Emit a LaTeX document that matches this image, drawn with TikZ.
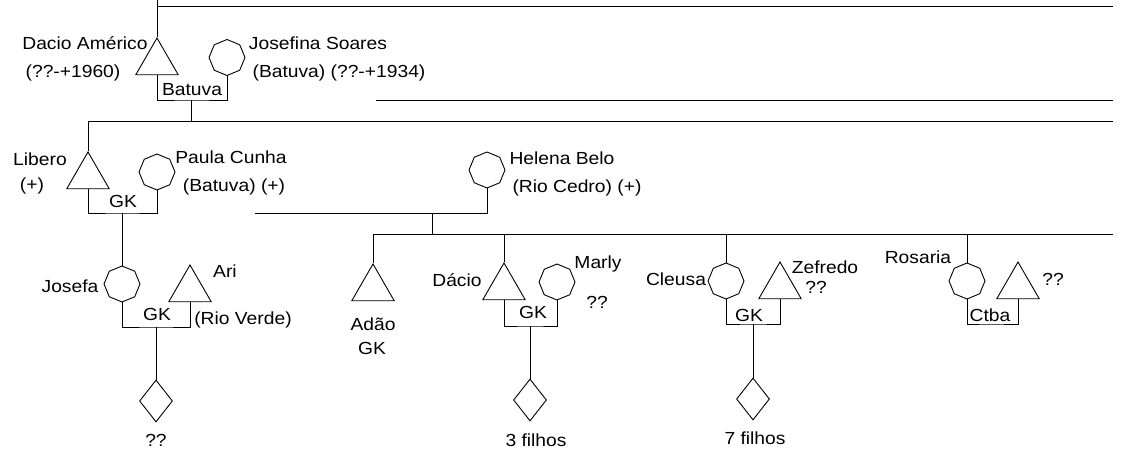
\documentclass[tikz,border=0pt]{standalone}
\usepackage{fontspec}
\setmainfont{Liberation Sans}[FakeStretch=1.1]
\usepackage{tikz}
\usetikzlibrary{positioning, shapes.geometric}

\begin{document}
\begin{tikzpicture}[
        x=1pt, y=-1pt,
        line width=0.9pt,
        male/.style={regular polygon, regular polygon sides=3, draw,
                     inner sep=0pt, minimum size=49pt},
        female/.style={regular polygon, regular polygon sides=8, draw,
                       shape border rotate=22.5, inner sep=0pt, minimum size=36pt},
        kids/.style={diamond, draw, inner sep=0pt,
                     minimum width=33pt, minimum height=42pt},
        lbl/.style={inner sep=0pt, text height=12pt, text depth=0pt,
                    font=\fontsize{17.5}{20}\selectfont},
    ]
        \useasboundingbox (0,0) rectangle (1121,454);

        \node[male]   (dacio)    at (157,62.5)  {};
        \node[female] (josefina) at (227,57.5)  {};
        \node[male]   (libero)   at (88,176.5)  {};
        \node[female] (paula)    at (157,172)   {};
        \node[female] (helena)   at (487,170)   {};
        \node[female] (josefa)   at (122,284)   {};
        \node[male]   (ari)      at (190,289.5) {};
        \node[kids]   (k1)       at (156,401)   {};
        \node[male]   (adao)     at (373,288.5) {};
        \node[male]   (dacioj)   at (504,287.5) {};
        \node[female] (marly)    at (557,282)   {};
        \node[kids]   (k2)       at (530,400)   {};
        \node[female] (cleusa)   at (726,281)   {};
        \node[male]   (zefredo)  at (780,286.5) {};
        \node[kids]   (k3)       at (753,399)   {};
        \node[female] (rosaria)  at (967,281)   {};
        \node[male]   (rosmar)   at (1018,286.5) {};

        \coordinate (top) at (157,0);
        \coordinate (g0)  at (157,6);   \coordinate (g0e) at (1113,6);
        \coordinate (u1)  at (191,100);
        \coordinate (h1)  at (376,100); \coordinate (h1e) at (1113,100);
        \coordinate (g1)  at (88,121);  \coordinate (g1e) at (1113,121);
        \coordinate (u2)  at (122,213);
        \coordinate (h2)  at (255,213);
        \coordinate (u3)  at (432,213);
        \coordinate (g2)  at (373,234); \coordinate (g2e) at (1113,234);
        \coordinate (u4)  at (156,327);
        \coordinate (u5)  at (530,326);
        \coordinate (u6)  at (753,324);
        \coordinate (u7)  at (990,324);

        \draw (top) -- (dacio.north);
        \draw (g0) -- (g0e);
        \draw (dacio.south) |- (u1) -| (josefina.south);
        \draw (u1) -- (u1 |- g1);
        \draw (h1) -- (h1e);
        \draw (g1) -- (g1e);
        \draw (g1) -- (libero.north);
        \draw (libero.south) |- (u2) -| (paula.south);
        \draw (u2) -- (josefa.north);
        \draw (h2) -| (helena.south);
        \draw (u3) -- (u3 |- g2);
        \draw (g2) -- (g2e);
        \draw (josefa.south) |- (u4) -| (ari.south);
        \draw (u4) -- (k1.north);
        \draw (g2) -- (adao.north);
        \draw (dacioj.north |- g2) -- (dacioj.north);
        \draw (dacioj.south) |- (u5) -| (marly.south);
        \draw (u5) -- (k2.north);
        \draw (cleusa.north |- g2) -- (cleusa.north);
        \draw (cleusa.south) |- (u6) -| (zefredo.south);
        \draw (u6) -- (k3.north);
        \draw (rosaria.north |- g2) -- (rosaria.north);
        \draw (rosaria.south) |- (u7) -| (rosmar.south);

        \node[lbl, anchor=east] (t1) at (148,44) {Dacio Américo};
        \node[lbl] (t2)  at (73,72)   {(??-+1960)};
        \node[lbl] (t3)  at (318,44)  {Josefina Soares};
        \node[lbl] (t4)  at (339,72)  {(Batuva) (??-+1934)};
        \node[lbl] (t5)  at (192,90)  {Batuva};
        \node[lbl] (t6)  at (40,160)  {Libero};
        \node[lbl] (t7)  at (32,185)  {(+)};
        \node[lbl] (t8)  at (231,158) {Paula Cunha};
        \node[lbl] (t9)  at (234,186) {(Batuva) (+)};
        \node[lbl] (t10) at (123,202) {GK};
        \node[lbl] (t11) at (562,159) {Helena Belo};
        \node[lbl] (t12) at (577,187) {(Rio Cedro) (+)};
        \node[lbl] (t13) at (70,286)  {Josefa};
        \node[lbl] (t14) at (225,271) {Ari};
        \node[lbl] (t15) at (243,318) {(Rio Verde)};
        \node[lbl] (t16) at (157,314) {GK};
        \node[lbl] (t17) at (156,440) {??};
        \node[lbl] (t18) at (373,324) {Adão};
        \node[lbl] (t19) at (372,348) {GK};
        \node[lbl] (t20) at (457,281) {Dácio};
        \node[lbl] (t21) at (598,263) {Marly};
        \node[lbl] (t22) at (597,302) {??};
        \node[lbl] (t23) at (533,312) {GK};
        \node[lbl] (t24) at (536,440) {3 filhos};
        \node[lbl] (t25) at (676,280) {Cleusa};
        \node[lbl] (t26) at (825,267) {Zefredo};
        \node[lbl] (t27) at (816,288) {??};
        \node[lbl] (t28) at (749,315) {GK};
        \node[lbl] (t29) at (755,438) {7 filhos};
        \node[lbl] (t30) at (918,257) {Rosaria};
        \node[lbl] (t31) at (1053,280) {??};
        \node[lbl] (t32) at (990,315) {Ctba};
\end{tikzpicture}
\end{document}
